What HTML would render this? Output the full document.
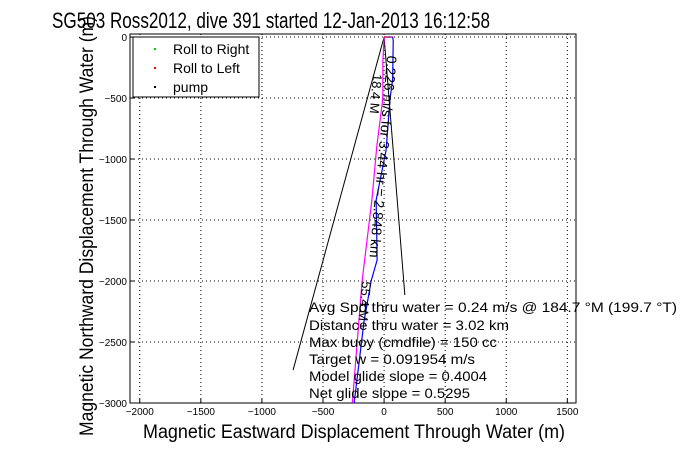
<!DOCTYPE html>
<html><head><meta charset="utf-8"><style>
html,body{margin:0;padding:0;background:#fff}
svg{display:block;font-family:"Liberation Sans",Arial,sans-serif}
</style></head><body>
<svg id="chart" width="681" height="454" viewBox="0 0 681 454">
<rect x="0" y="0" width="681" height="454" fill="#fff"/>
<text x="52" y="28" font-size="22" textLength="438" lengthAdjust="spacingAndGlyphs">SG503 Ross2012, dive 391 started 12-Jan-2013 16:12:58</text>
<g id="grid"></g>
<g id="axes"></g>
<g id="series"></g>
<g id="annot"></g>
<text x="143" y="438" font-size="19" textLength="422" lengthAdjust="spacingAndGlyphs">Magnetic Eastward Displacement Through Water (m)</text>
<text transform="translate(93,226) rotate(-90)" font-size="19" text-anchor="middle" textLength="420" lengthAdjust="spacingAndGlyphs">Magnetic Northward Displacement Through Water (m)</text>
<g>
<rect x="133" y="37" width="126" height="60" fill="#fff" stroke="#000" stroke-width="1"/>
<rect x="154" y="48" width="2" height="2" fill="#0c0"/>
<text x="173" y="54" font-size="14">Roll to Right</text>
<rect x="154" y="67" width="2" height="2" fill="#f00"/>
<text x="173" y="73" font-size="14">Roll to Left</text>
<rect x="154" y="86" width="2" height="2" fill="#000"/>
<text x="173" y="92" font-size="14">pump</text>
</g>
<g font-size="14">
<text x="309" y="312" textLength="368" lengthAdjust="spacingAndGlyphs">Avg Spd thru water =  0.24 m/s @ 184.7    °M (199.7 °T)</text>
<text x="309" y="330" textLength="200" lengthAdjust="spacingAndGlyphs">Distance thru water =  3.02 km</text>
<text x="309" y="347" textLength="188" lengthAdjust="spacingAndGlyphs">Max buoy (cmdfile) = 150 cc</text>
<text x="309" y="364" textLength="166" lengthAdjust="spacingAndGlyphs">Target w = 0.091954 m/s</text>
<text x="309" y="381" textLength="178" lengthAdjust="spacingAndGlyphs">Model glide slope = 0.4004</text>
<text x="309" y="398" textLength="161" lengthAdjust="spacingAndGlyphs">Net glide slope = 0.5295</text>
</g>
</svg>
<script>
const xTicks=[-2000,-1500,-1000,-500,0,500,1000,1500];
const yTicks=[0,-500,-1000,-1500,-2000,-2500,-3000];
const blueX=[0,70,75,70,49,16,-65,-57,-106,-164,-245];
const blueY=[0,0,-30,-350,-500,-930,-1336,-1828,-2000,-2330,-3000];
const magX=[0,-10,-10,-60,-100,-180,-260];
const magY=[0,-200,-500,-900,-1336,-2000,-3000];
const leftLineX=[0,-745];
const leftLineY=[0,-2730];
const rightLineX=[0,170];
const rightLineY=[0,-2115];
const xMin=-2080,xMax=1571,yMin=-3000,yMax=25;
const L=130,R=576,T=34,B=403;
const sx=v=>L+(v-xMin)/(xMax-xMin)*(R-L);
const sy=v=>B-(v-yMin)/(yMax-yMin)*(B-T);
const NS='http://www.w3.org/2000/svg';
function mk(tag,attrs,parent){const e=document.createElementNS(NS,tag);for(const k in attrs)e.setAttribute(k,attrs[k]);parent.appendChild(e);return e;}
const grid=document.getElementById('grid'),axes=document.getElementById('axes'),ser=document.getElementById('series'),ann=document.getElementById('annot');
xTicks.forEach(t=>{
 const x=sx(t);
 const g=mk('line',{x1:x,x2:x,y1:T,y2:B,stroke:'#000','stroke-dasharray':'1,3','stroke-width':1},grid);
 
 
 const tk=mk('line',{x1:x,x2:x,y1:B,y2:B-4,stroke:'#000'},axes);
 
 
 const lb=mk('text',{x:x,y:B+12,'font-size':10,'text-anchor':'middle'},axes);
 lb.textContent=String(t).replace('-','\u2212');
 
 
});
yTicks.forEach(t=>{
 const y=sy(t);
 const g=mk('line',{x1:L,x2:R,y1:y,y2:y,stroke:'#000','stroke-dasharray':'1,3','stroke-width':1},grid);
 
 
 const tk=mk('line',{x1:L,x2:L+4,y1:y,y2:y,stroke:'#000'},axes);
 
 
 const lb=mk('text',{x:L-3,y:y+4,'font-size':10,'text-anchor':'end'},axes);
 lb.textContent=String(t).replace('-','\u2212');
 
 
});
const box=mk('rect',{x:L,y:T,width:R-L,height:B-T,fill:'none',stroke:'#000','stroke-width':1},axes);


function pl(xs,ys,color,name,w){
 const p=mk('polyline',{points:xs.map((v,i)=>sx(v)+','+sy(ys[i])).join(' '),fill:'none',stroke:color,'stroke-width':w||1},ser);
 
 
}
pl(leftLineX,leftLineY,'#000','bearing-line-left');
pl(rightLineX,rightLineY,'#000','bearing-line-right');
pl(magX,magY,'#f0f','magenta-track',1.2);
pl(blueX,blueY,'#00f','blue-track',1.2);
const rd=mk('polyline',{points:[[0,0],[70,0]].map(p=>sx(p[0])+','+sy(p[1])).join(' '),fill:'none',stroke:'#f00','stroke-width':1.5,'stroke-dasharray':'2,2'},ser);


const t1=mk('text',{transform:'translate('+(sx(25))+','+(sy(-150))+') rotate(95)','font-size':14},ann);
t1.textContent='0.226 m/s for 3.44 hr = 2.848 km';


const t2=mk('text',{transform:'translate('+(sx(-90))+','+(sy(-300))+') rotate(95)','font-size':13},ann);
t2.textContent='18.4 M';


const t3=mk('text',{transform:'translate('+(sx(-180))+','+(sy(-2000))+') rotate(95)','font-size':13},ann);
t3.textContent='55.4 M';


</script>
</body></html>
